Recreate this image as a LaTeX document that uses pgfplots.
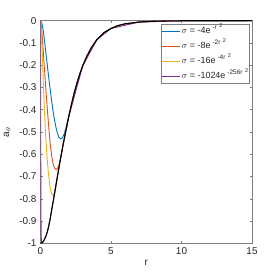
\documentclass[border=0pt]{standalone}
\usepackage{fontspec}
\setmainfont{Liberation Sans}
\usepackage{pgfplots}
\pgfplotsset{compat=1.18}
\definecolor{mblue}{rgb}{0,0.447,0.741}
\definecolor{morange}{rgb}{0.85,0.325,0.098}
\definecolor{myellow}{rgb}{0.929,0.694,0.125}
\definecolor{mpurple}{rgb}{0.494,0.184,0.556}
\definecolor{axgray}{rgb}{0.5,0.5,0.5}
\definecolor{txt}{rgb}{0.15,0.15,0.15}
\newcommand{\ex}[1]{e\hspace{2bp}\raisebox{0.8ex}{\fontsize{6.5}{7}\selectfont #1\hspace{2.5bp}\raisebox{0.6ex}{\fontsize{5.5}{6}\selectfont 2}}}
\begin{document}
\begin{tikzpicture}
\path[use as bounding box] (0,0) rectangle (278bp,273bp);
\begin{axis}[
  at={(40.5bp,29.7bp)}, anchor=south west,
  scale only axis, width=211.5bp, height=222.6bp,
  xmin=0, xmax=15, ymin=-1, ymax=0,
  xtick={0,5,10,15}, xticklabels={0,5,10,15},
  ytick={-1,-0.9,-0.8,-0.7,-0.6,-0.5,-0.4,-0.3,-0.2,-0.1,0},
  yticklabels={-1,-0.9,-0.8,-0.7,-0.6,-0.5,-0.4,-0.3,-0.2,-0.1,0},
  tick align=inside, major tick length=2.2bp,
  axis line style={axgray, line width=0.5bp},
  every tick/.style={axgray, line width=0.5bp},
  tick label style={font=\fontsize{10}{12}\selectfont, text=txt},
  xticklabel style={yshift=-1bp},
  yticklabel style={xshift=-0.5bp},
  xlabel={r}, ylabel={a$_\theta$},
  label style={font=\fontsize{10}{12}\selectfont, text=txt},
  xlabel style={at={(axis description cs:0.5,-0.0898)}, anchor=center},
  ylabel style={at={(axis description cs:-0.158,0.5)}, anchor=center},
  legend cell align=left,
  legend image code/.code={\draw[#1, line width=1.4bp] (0bp,0bp) -- (18bp,0bp);},
  legend style={at={(0.99,0.984)}, anchor=north east,
    font=\fontsize{9}{10}\selectfont, draw=axgray, line width=0.5bp,
    fill=white, inner xsep=0.5bp, inner ysep=1bp, row sep=3bp,
    nodes={inner sep=1bp, text height=7bp, text depth=3bp}},
]
\addplot[draw=mblue, line width=0.9bp] coordinates {
(0,0) (0.1,-0.012) (0.2,-0.045) (0.3,-0.10) (0.4,-0.155) (0.5,-0.21)
(0.6,-0.265) (0.7,-0.315) (0.8,-0.365) (0.9,-0.41) (1.0,-0.448)
(1.1,-0.48) (1.2,-0.506) (1.3,-0.523) (1.43,-0.531) (1.55,-0.527)
(1.7,-0.505) (1.85,-0.47) (2.0,-0.43) (2.2,-0.375) (2.4,-0.322)
(2.6,-0.277) (2.8,-0.237) (3.0,-0.202) (3.3,-0.158) (3.6,-0.122)
(4.0,-0.085) (4.5,-0.054) (5.0,-0.035) (5.5,-0.022) (6.0,-0.014)
(7.0,-0.006) (8.0,-0.0025) (9,-0.001) (10,-0.0004) (12,-0.0001) (15,0)
};
\addlegendentry{\color{txt}$\sigma$ = -4\ex{-r}}
\addplot[draw=morange, line width=0.9bp] coordinates {
(0,0) (0.05,-0.015) (0.1,-0.05) (0.2,-0.14) (0.3,-0.235) (0.4,-0.325)
(0.5,-0.41) (0.6,-0.49) (0.7,-0.56) (0.8,-0.61) (0.9,-0.645)
(1.0,-0.663) (1.12,-0.670) (1.25,-0.658) (1.35,-0.64) (1.45,-0.61)
(1.5,-0.592) (1.6,-0.558) (1.8,-0.493) (2.0,-0.432) (2.2,-0.375)
(2.4,-0.322) (2.6,-0.277) (2.8,-0.237) (3.0,-0.202) (3.3,-0.158)
(3.6,-0.122) (4.0,-0.085) (4.5,-0.054) (5.0,-0.035) (5.5,-0.022)
(6.0,-0.014) (7.0,-0.006) (8.0,-0.0025) (9,-0.001) (10,-0.0004) (12,-0.0001) (15,0)
};
\addlegendentry{\color{txt}$\sigma$ = -8\ex{-2r}}
\addplot[draw=myellow, line width=0.9bp] coordinates {
(0,0) (0.05,-0.035) (0.1,-0.10) (0.15,-0.18) (0.2,-0.28) (0.25,-0.36)
(0.3,-0.43) (0.35,-0.50) (0.4,-0.555) (0.45,-0.60) (0.5,-0.64)
(0.57,-0.69) (0.65,-0.735) (0.75,-0.77) (0.84,-0.782) (0.92,-0.785)
(1.0,-0.772) (1.1,-0.738) (1.2,-0.700) (1.3,-0.663) (1.4,-0.627)
(1.5,-0.592) (1.6,-0.558) (1.8,-0.493) (2.0,-0.432) (2.2,-0.375)
(2.4,-0.322) (2.6,-0.277) (2.8,-0.237) (3.0,-0.202) (3.3,-0.158)
(3.6,-0.122) (4.0,-0.085) (4.5,-0.054) (5.0,-0.035) (5.5,-0.022)
(6.0,-0.014) (7.0,-0.006) (8.0,-0.0025) (9,-0.001) (10,-0.0004) (12,-0.0001) (15,0)
};
\addlegendentry{\color{txt}$\sigma$ = -16\ex{-4r}}
\addplot[draw=mpurple, line width=0.9bp] coordinates {
(0,0) (0.01,-0.25) (0.02,-0.6) (0.03,-0.85) (0.05,-0.97) (0.08,-0.995)
(0.1,-0.998) (0.2,-0.992) (0.3,-0.980) (0.4,-0.965) (0.5,-0.945)
(0.6,-0.918) (0.7,-0.885) (0.8,-0.848) (0.9,-0.812) (1.0,-0.775)
(1.2,-0.700) (1.4,-0.627) (1.6,-0.558) (2.0,-0.432) (3.0,-0.202)
(4.0,-0.085) (5.0,-0.035) (7.0,-0.006) (10,-0.0004) (15,0)
};
\addlegendentry{\color{txt}$\sigma$ = -1024\ex{-256r}}
\addplot[draw=black, line width=1.1bp, forget plot] coordinates {
(0,-1) (0.1,-0.998) (0.2,-0.992) (0.3,-0.980) (0.4,-0.965) (0.5,-0.945)
(0.6,-0.918) (0.7,-0.885) (0.8,-0.848) (0.9,-0.812) (1.0,-0.775)
(1.1,-0.738) (1.2,-0.700) (1.3,-0.663) (1.4,-0.627) (1.5,-0.592)
(1.6,-0.558) (1.8,-0.493) (2.0,-0.432) (2.2,-0.375) (2.4,-0.322)
(2.6,-0.277) (2.8,-0.237) (3.0,-0.202) (3.3,-0.158) (3.6,-0.122)
(4.0,-0.085) (4.5,-0.054) (5.0,-0.035) (5.5,-0.022) (6.0,-0.014)
(7.0,-0.006) (8.0,-0.0025) (9,-0.001) (10,-0.0004) (12,-0.0001) (15,0)
};
\end{axis}
\end{tikzpicture}
\end{document}
